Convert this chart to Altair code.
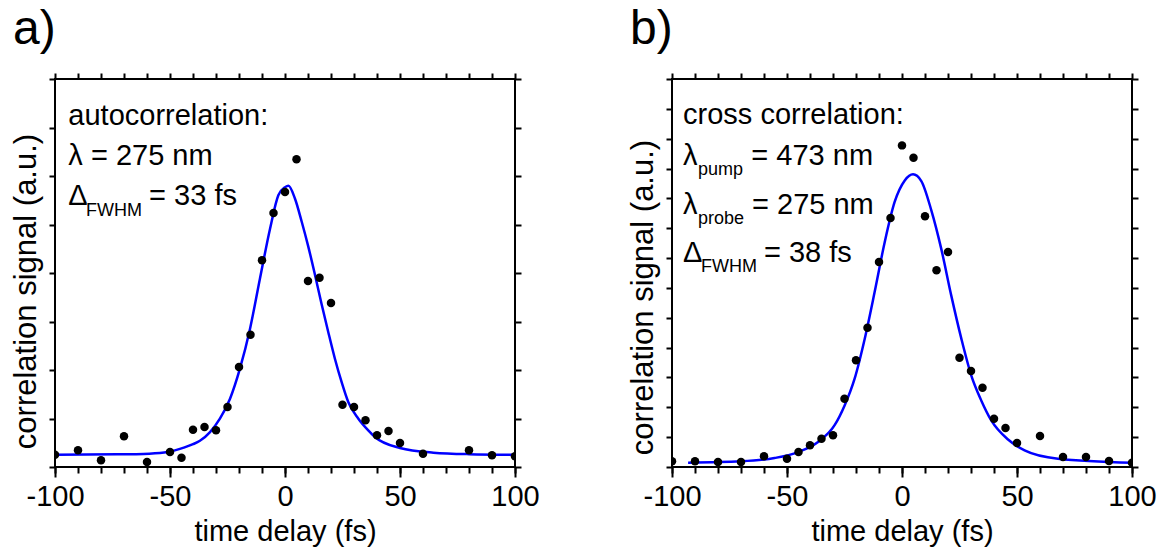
import altair as alt
import pandas as pd

FONT = "Liberation Sans"
FS = 29
SUB = 18

# ---------------- panel a: autocorrelation ----------------
a_t = [-100, -90, -80, -70, -60, -50, -45, -40, -35, -30, -25, -20, -15, -10, -5,
       0, 5, 10, 15, 20, 25, 30, 35, 40, 45, 50, 60, 80, 90, 100]
a_v = [0.254, 0.344, 0.138, 0.633, 0.103, 0.309, 0.192, 0.769, 0.825, 0.757, 1.237,
       2.062, 2.728, 4.262, 5.237, 5.670, 6.344, 3.835, 3.903, 3.381, 1.285, 1.237,
       0.963, 0.654, 0.742, 0.495, 0.274, 0.344, 0.241, 0.221]
a_fit_t = [-100, -73, -59, -51, -44, -40, -37, -32.6, -28.3, -23.9, -19.6, -15.2, -10.9,
           -6.5, -2.9, 0, 1.5, 4.35, 7.3, 10.1, 13.0, 15.9, 18.8, 21.7, 24.6, 27.5,
           31.9, 36.2, 39.1, 50, 64.5, 80, 100]
a_fit_v = [0.254, 0.261, 0.275, 0.309, 0.40, 0.47, 0.54, 0.72, 0.996, 1.408, 2.027, 2.852,
           3.882, 4.913, 5.602, 5.77, 5.80, 5.532, 5.052, 4.55, 3.97, 3.36, 2.784,
           2.233, 1.753, 1.340, 0.996, 0.756, 0.619, 0.392, 0.296, 0.265, 0.254]
a_text = ["autocorrelation:", "\u03bb = 275 nm", "\u0394", "= 33 fs"]
a_text_t = [-94.2, -94.2, -94.2, -59.1]
a_text_v = [7.058, 6.221, 5.408, 5.408]
a_sub = ["FWHM"]
a_sub_t = [-86.5]
a_sub_v = [5.175]

# ---------------- panel b: cross correlation ----------------
b_t = [-100, -90, -80, -70, -60, -50, -45, -40, -35, -30, -25, -20, -15, -10, -5,
       0, 5, 10, 15, 20, 25, 30, 35, 40, 45, 50, 60, 70, 80, 90, 100]
b_v = [0.19, 0.19, 0.168, 0.168, 0.357, 0.279, 0.503, 0.726, 0.949, 1.061, 2.289,
       3.573, 4.668, 6.868, 8.342, 10.776, 10.363, 8.398, 6.589, 7.203, 3.663, 3.216,
       2.658, 1.619, 1.307, 0.804, 1.039, 0.335, 0.335, 0.201, 0.145]
b_fit_t = [-93, -70, -55.4, -45.2, -36.5, -29.3, -24.9, -20.6, -16.2, -11.9, -7.5,
           -3.2, 1.2, 4.8, 8.4, 12.75, 17.1, 21.4, 25.8, 30.1, 34.5, 38.8, 46.1,
           53.3, 67.8, 100]
b_fit_v = [0.145, 0.19, 0.30, 0.50, 0.84, 1.40, 2.07, 2.96, 4.30, 5.86, 7.54, 8.88,
           9.60, 9.805, 9.58, 8.60, 7.30, 5.75, 4.30, 3.07, 2.22, 1.56, 0.92, 0.56,
           0.28, 0.145]
b_text = ["cross correlation:", "\u03bb", "= 473 nm", "\u03bb", "= 275 nm", "\u0394", "= 38 fs"]
b_text_t = [-95.2, -95.2, -65.5, -95.2, -65.2, -95.2, -60.0]
b_text_v = [11.50, 10.107, 10.107, 8.486, 8.486, 6.868, 6.868]
b_sub = ["pump", "probe", "FWHM"]
b_sub_t = [-88.7, -88.7, -87.4]
b_sub_v = [9.80, 8.15, 6.533]

x_major = [-100, -50, 0, 50, 100]
x_minor = list(range(-100, 101, 10))


def panel(label, pts_t, pts_v, fit_t, fit_v, txt, txt_t, txt_v, sub, sub_t, sub_v,
          ymax, title_y):
    xs = alt.Scale(domain=[-100, 100], nice=False, zero=False)
    ys = alt.Scale(domain=[0, ymax], nice=False, zero=False)
    yticks = list(range(0, ymax + 1))
    common_tick = dict(tickColor="black", tickWidth=2, domain=False, grid=False)

    pts = pd.DataFrame({"t": pts_t, "v": pts_v})
    fit = pd.DataFrame({"t": fit_t, "v": fit_v})
    tdf = pd.DataFrame({"t": txt_t, "v": txt_v, "s": txt})
    sdf = pd.DataFrame({"t": sub_t, "v": sub_v, "s": sub})

    line = alt.Chart(fit).mark_line(color="#0000ff", strokeWidth=2.5,
                                    interpolate="monotone", clip=True).encode(
        x=alt.X("t:Q", scale=xs, axis=alt.Axis(
            orient="bottom", values=x_major, tickSize=10, labels=True,
            labelExpr="toString(datum.value)",
            labelFontSize=FS, labelFont=FONT, labelColor="black", labelPadding=5,
            labelFlush=False, labelOverlap=False,
            title="time delay (fs)", titleFontSize=FS, titleFont=FONT,
            titleFontWeight="normal", titleColor="black", titlePadding=6,
            **common_tick)),
        y=alt.Y("v:Q", scale=ys, axis=alt.Axis(
            orient="right", values=yticks, tickSize=6, labels=False, title=None,
            **common_tick)),
    )
    dots = alt.Chart(pts).mark_circle(size=72, color="black", opacity=1,
                                      clip=True).encode(
        x=alt.X("t:Q", scale=xs, axis=alt.Axis(
            orient="bottom", values=x_minor, tickSize=6, labels=False, title=None,
            **common_tick)),
        y=alt.Y("v:Q", scale=ys, axis=alt.Axis(
            orient="left", values=yticks, tickSize=6, labels=False,
            title="correlation signal (a.u.)", titleFontSize=31, titleFont=FONT,
            titleFontWeight="normal", titleColor="black", titleX=-13,
            titleY=title_y, titleAngle=270, titleAlign="center",
            titleBaseline="bottom", **common_tick)),
    )
    texts = alt.Chart(tdf).mark_text(align="left", baseline="alphabetic",
                                     fontSize=FS, font=FONT, color="black").encode(
        x=alt.X("t:Q", scale=xs, axis=alt.Axis(
            orient="top", values=x_minor, tickSize=6, labels=False, title=None,
            **common_tick)),
        y=alt.Y("v:Q", scale=ys, axis=None),
        text="s:N",
    )
    subs = alt.Chart(sdf).mark_text(align="left", baseline="alphabetic",
                                    fontSize=SUB, font=FONT, color="black").encode(
        x=alt.X("t:Q", scale=xs, axis=None),
        y=alt.Y("v:Q", scale=ys, axis=None),
        text="s:N",
    )
    return alt.layer(line, dots, texts, subs).resolve_axis(
        x="independent", y="independent").properties(
        width=460, height=388,
        title=alt.TitleParams(label, anchor="start", frame="group", fontSize=48,
                              font=FONT, fontWeight="normal", color="black",
                              dx=-42, offset=-20, baseline="alphabetic"))


pa = panel("a)", a_t, a_v, a_fit_t, a_fit_v, a_text, a_text_t, a_text_v,
           a_sub, a_sub_t, a_sub_v, 8, 212)
pb = panel("b)", b_t, b_v, b_fit_t, b_fit_v, b_text, b_text_t, b_text_v,
           b_sub, b_sub_t, b_sub_v, 13, 218)

chart = alt.hconcat(pa, pb, spacing=157, bounds="flush").properties(
    padding={"left": 8, "top": 5, "right": 5, "bottom": 0},
    background="white",
).configure_view(stroke="black", strokeWidth=2)

chart.save("out.html", embed_options={"renderer": "svg", "actions": False})
